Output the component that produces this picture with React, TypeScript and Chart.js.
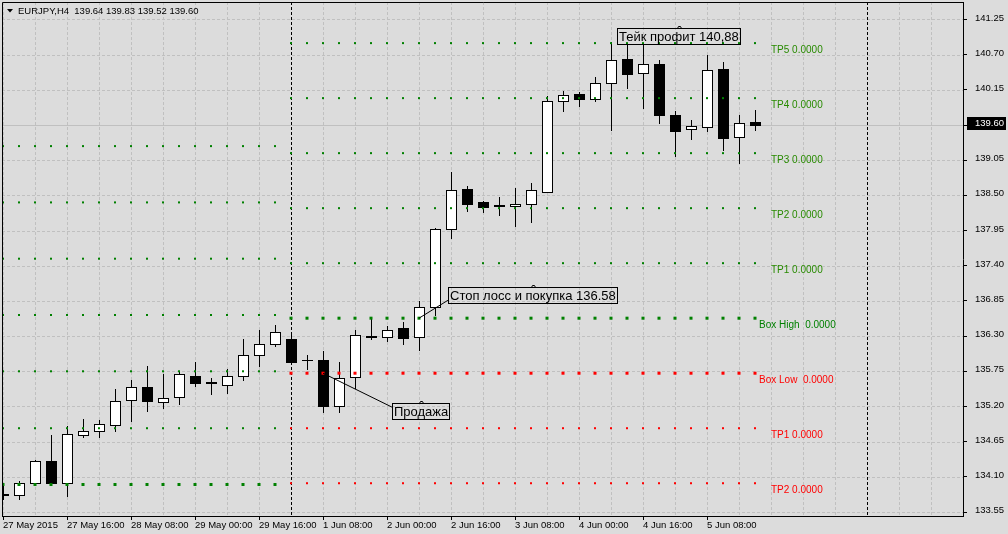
import React, { useEffect, useRef } from 'react';
import { Chart, registerables } from 'chart.js';

Chart.register(...registerables);

// ---------- data ----------
const symbol = 'EURJPY';
const timeframe = 'H4';

const xTickIndex = [0, 4, 8, 12, 16, 20, 24, 28, 32, 36, 40, 44];
const xTickLabels = [
  '27 May 2015', '27 May 16:00', '28 May 08:00', '29 May 00:00', '29 May 16:00', '1 Jun 08:00',
  '2 Jun 00:00', '2 Jun 16:00', '3 Jun 08:00', '4 Jun 00:00', '4 Jun 16:00', '5 Jun 08:00',
];
const yTicks = [133.55, 134.10, 134.65, 135.20, 135.75, 136.30, 136.85, 137.40, 137.95, 138.50, 139.05, 139.60, 140.15, 140.70, 141.25];

const opens = [
  133.83, 133.82, 134.01, 134.35, 134.01, 134.75, 134.82, 134.91, 135.30, 135.51,
  135.27, 135.35, 135.68, 135.58, 135.54, 135.67, 136.01, 136.18, 136.25, 135.93,
  135.92, 135.20, 135.66, 136.30, 136.29, 136.42, 136.29, 136.75, 137.97, 138.60,
  138.39, 138.35, 138.33, 138.36, 138.56, 139.97, 140.08, 140.00, 140.25, 140.63,
  140.41, 140.56, 139.75, 139.53, 139.57, 140.47, 139.41, 139.64,
];
const highs = [
  133.96, 134.04, 134.37, 134.76, 134.90, 135.00, 134.99, 135.47, 135.62, 135.84,
  135.70, 135.76, 135.90, 135.65, 135.78, 136.25, 136.39, 136.47, 136.37, 136.00,
  136.06, 135.89, 136.39, 136.56, 136.46, 136.52, 136.85, 137.99, 138.86, 138.65,
  138.41, 138.48, 138.62, 138.70, 140.05, 140.13, 140.12, 140.35, 140.90, 140.87,
  140.88, 140.62, 139.82, 139.68, 140.70, 140.59, 139.75, 139.83,
];
const lows = [
  133.76, 133.76, 134.00, 133.99, 133.80, 134.73, 134.73, 134.82, 134.97, 135.13,
  135.17, 135.24, 135.52, 135.39, 135.41, 135.61, 135.83, 136.14, 135.89, 135.78,
  135.11, 135.11, 135.49, 136.25, 136.22, 136.18, 136.09, 136.63, 137.84, 138.26,
  138.24, 138.19, 138.02, 138.09, 138.55, 139.82, 139.90, 139.97, 139.52, 140.18,
  139.87, 139.63, 139.12, 139.38, 139.51, 139.21, 139.01, 139.52,
];
const closes = [
  133.82, 134.00, 134.35, 134.00, 134.77, 134.82, 134.93, 135.29, 135.51, 135.28,
  135.34, 135.70, 135.57, 135.56, 135.68, 136.01, 136.17, 136.37, 135.89, 135.92,
  135.20, 135.65, 136.32, 136.29, 136.40, 136.27, 136.75, 137.97, 138.58, 138.37,
  138.32, 138.33, 138.37, 138.58, 139.98, 140.07, 140.00, 140.25, 140.61, 140.40,
  140.56, 139.75, 139.51, 139.58, 140.46, 139.40, 139.63, 139.60,
];

const separatorBars = [18, 54];
const boxStartBar = 18;

const boxLevels = [140.88, 140.02, 139.16, 138.30, 137.44, 136.58, 135.72, 134.86, 134.00];
const boxLevelNames = ['TP5', 'TP4', 'TP3', 'TP2', 'TP1', 'Box High ', 'Box Low ', 'TP1', 'TP2'];
const boxLevelValues = [0, 0, 0, 0, 0, 0, 0, 0, 0];
const prevLevels = [139.27, 138.39, 137.51, 136.63, 135.75, 134.86, 133.98];

const noteTexts = ['Тейк профит 140,88', 'Стоп лосс и покупка 136.58', 'Продажа'];
const noteBar = [38.38, 27.81, 24.31];
const notePrice = [141.11, 137.07, 135.25];
const noteFromBar = [NaN, 26, 20];
const noteFromPrice = [NaN, 136.58, 135.72];
const noteToBar = [NaN, 27.81, 24.31];
const noteToPrice = [NaN, 136.86, 135.19];

// ---------- styles ----------
const BG = '#dcdcdc';
const GRID = '#c0c0c0';
const GREEN = 'rgb(0,128,0)';
const RED = 'rgb(255,0,0)';
const TPGREEN = 'rgb(40,138,0)';
const FONT = '"Liberation Sans", Arial, sans-serif';
const boxLevelColors = [GREEN, GREEN, GREEN, GREEN, GREEN, GREEN, RED, RED, RED];
const boxLevelBig = [false, false, false, false, false, true, true, false, false];
const boxLabelColors = [TPGREEN, TPGREEN, TPGREEN, TPGREEN, TPGREEN, GREEN, RED, RED, RED];
const prevLevelBig = [false, false, false, false, false, false, true];
const SMALL_R = 1.42;
const BIG_R = 2.13;

const mt4Plugin = {
  id: 'mt4',
  beforeDraw(chart: any) {
    const { ctx } = chart;
    ctx.save();
    ctx.fillStyle = BG;
    ctx.fillRect(0, 0, chart.width, chart.height);
    ctx.restore();
  },
  beforeDatasetsDraw(chart: any) {
    const { ctx, chartArea: a, scales } = chart;
    const x = scales.x, y = scales.y;
    ctx.save();
    ctx.beginPath();
    ctx.rect(a.left, a.top, a.right - a.left, a.bottom - a.top);
    ctx.clip();

    // grid
    ctx.strokeStyle = GRID;
    ctx.lineWidth = 1;
    ctx.setLineDash([3, 2]);
    for (let i = 0; i <= x.max; i += 2) {
      const px = Math.round(x.getPixelForValue(i)) + 0.5;
      ctx.beginPath();
      ctx.moveTo(px, a.top);
      ctx.lineTo(px, a.bottom);
      ctx.stroke();
    }
    yTicks.forEach((v) => {
      const py = Math.round(y.getPixelForValue(v)) + 0.5;
      ctx.beginPath();
      ctx.moveTo(a.left, py);
      ctx.lineTo(a.right, py);
      ctx.stroke();
    });

    // bid line
    ctx.setLineDash([]);
    const bidY = Math.round(y.getPixelForValue(closes[closes.length - 1])) + 0.5;
    ctx.beginPath();
    ctx.moveTo(a.left, bidY);
    ctx.lineTo(a.right, bidY);
    ctx.stroke();

    // separators
    ctx.strokeStyle = '#000';
    ctx.setLineDash([3, 2]);
    separatorBars.forEach((b) => {
      const px = Math.round(x.getPixelForValue(b)) + 0.5;
      ctx.beginPath();
      ctx.moveTo(px, a.top);
      ctx.lineTo(px, a.bottom);
      ctx.stroke();
    });
    ctx.setLineDash([]);

    // candles
    for (let i = 0; i < opens.length; i++) {
      const cx = Math.round(x.getPixelForValue(i));
      const yo = y.getPixelForValue(opens[i]);
      const yc = y.getPixelForValue(closes[i]);
      const yh = Math.round(y.getPixelForValue(highs[i]));
      const yl = Math.round(y.getPixelForValue(lows[i]));
      ctx.fillStyle = '#000';
      ctx.fillRect(cx, yh, 1, yl - yh + 1);
      const top = Math.round(Math.min(yo, yc));
      const bot = Math.round(Math.max(yo, yc));
      ctx.fillRect(cx - 5, top, 11, bot - top + 1);
      if (closes[i] >= opens[i] && bot - top >= 2) {
        ctx.fillStyle = '#fff';
        ctx.fillRect(cx - 4, top + 1, 9, bot - top - 1);
      }
    }
    ctx.restore();
  },
  afterDatasetsDraw(chart: any) {
    const { ctx, chartArea: a, scales } = chart;
    const x = scales.x, y = scales.y;
    const n = opens.length;
    ctx.save();

    // left & top border
    ctx.strokeStyle = '#000';
    ctx.lineWidth = 1;
    ctx.beginPath();
    ctx.moveTo(a.left + 0.5, a.bottom);
    ctx.lineTo(a.left + 0.5, a.top + 0.5);
    ctx.lineTo(a.right + 1, a.top + 0.5);
    ctx.stroke();

    // level labels
    ctx.font = `10px ${FONT}`;
    ctx.textBaseline = 'middle';
    ctx.textAlign = 'left';
    boxLevels.forEach((lv, k) => {
      const isBox = boxLevelNames[k].startsWith('Box');
      const px = x.getPixelForValue(isBox ? n - 1 + 0.25 : n);
      const py = y.getPixelForValue(lv);
      ctx.fillStyle = boxLabelColors[k];
      ctx.fillText(`${boxLevelNames[k]} ${boxLevelValues[k].toFixed(4)}`, px, py + 7.5);
    });

    // notes
    ctx.font = `13px ${FONT}`;
    ctx.strokeStyle = '#000';
    ctx.fillStyle = '#000';
    noteTexts.forEach((t, k) => {
      if (!isNaN(noteFromBar[k])) {
        ctx.beginPath();
        ctx.moveTo(x.getPixelForValue(noteFromBar[k]), y.getPixelForValue(noteFromPrice[k]));
        ctx.lineTo(x.getPixelForValue(noteToBar[k]), y.getPixelForValue(noteToPrice[k]));
        ctx.stroke();
      }
      const bx = Math.round(x.getPixelForValue(noteBar[k])) + 0.5;
      const by = Math.round(y.getPixelForValue(notePrice[k])) + 0.5;
      const w = Math.round(ctx.measureText(t).width) + 3;
      const h = 16;
      ctx.strokeRect(bx, by, w, h);
      ctx.fillText(t, bx + 1.5, by + 8.5);
      const nx = Math.round(bx + w / 2) + 0.5;
      ctx.beginPath();
      ctx.moveTo(nx - 2, by);
      ctx.lineTo(nx - 1, by - 2);
      ctx.lineTo(nx + 1, by - 2);
      ctx.lineTo(nx + 2, by);
      ctx.stroke();
    });

    // bid label
    const last = closes[n - 1];
    const bpy = Math.round(y.getPixelForValue(last));
    ctx.fillStyle = '#000';
    ctx.fillRect(a.right + 4, bpy - 8, 39, 13);
    ctx.fillStyle = '#fff';
    ctx.font = `9.5px ${FONT}`;
    ctx.fillText(last.toFixed(2), a.right + 12, bpy - 1.5);

    // header
    ctx.fillStyle = '#000';
    ctx.beginPath();
    ctx.moveTo(7, 9);
    ctx.lineTo(13, 9);
    ctx.lineTo(10, 12.5);
    ctx.closePath();
    ctx.fill();
    ctx.font = `9.5px ${FONT}`;
    ctx.fillText(
      `${symbol},${timeframe}  ${opens[n - 1].toFixed(2)} ${highs[n - 1].toFixed(2)} ${lows[n - 1].toFixed(2)} ${closes[n - 1].toFixed(2)}`,
      18, 11,
    );
    ctx.restore();
  },
};

export default function App() {
  const ref = useRef<HTMLCanvasElement>(null);

  useEffect(() => {
    document.body.style.margin = '0';
    document.body.style.background = BG;
    const canvas = ref.current;
    if (!canvas) return;
    const n = opens.length;
    const rightIdx: number[] = [];
    for (let i = boxStartBar; i < n; i++) rightIdx.push(i);
    const leftIdx: number[] = [];
    for (let i = 0; i < boxStartBar; i++) leftIdx.push(i);

    const datasets: any[] = [];
    boxLevels.forEach((lv, k) => {
      datasets.push({
        data: rightIdx.map((i) => ({ x: i, y: lv })),
        pointStyle: 'rect',
        pointRadius: boxLevelBig[k] ? BIG_R : SMALL_R,
        backgroundColor: boxLevelColors[k],
        borderWidth: 0,
      });
    });
    prevLevels.forEach((lv, k) => {
      datasets.push({
        data: leftIdx.map((i) => ({ x: i, y: lv })),
        pointStyle: 'rect',
        pointRadius: prevLevelBig[k] ? BIG_R : SMALL_R,
        backgroundColor: GREEN,
        borderWidth: 0,
      });
    });

    Chart.defaults.font.family = FONT;
    Chart.defaults.color = '#000';

    const chart = new Chart(canvas, {
      type: 'scatter',
      data: { datasets },
      plugins: [mt4Plugin],
      options: {
        animation: false,
        responsive: false,
        events: [],
        layout: { autoPadding: false, padding: { left: 2, top: 2, right: 0, bottom: 0 } },
        plugins: { legend: { display: false }, tooltip: { enabled: false } },
        scales: {
          x: {
            type: 'linear',
            position: 'bottom',
            min: -0.0625,
            max: 60,
            afterBuildTicks: (ax: any) => {
              ax.ticks = xTickIndex.map((v) => ({ value: v }));
            },
            afterFit: (ax: any) => {
              ax.height = 18;
              ax.paddingLeft = 0;
              ax.paddingRight = 0;
            },
            ticks: {
              autoSkip: false,
              maxRotation: 0,
              minRotation: 0,
              align: 'start',
              padding: 0,
              color: '#000',
              font: { size: 9.5, family: FONT },
              callback: (v: any) => {
                const k = xTickIndex.indexOf(Number(v));
                return k >= 0 ? xTickLabels[k] : '';
              },
            },
            grid: { drawOnChartArea: false, drawTicks: true, tickLength: 4, color: '#000' },
            border: { display: true, color: '#000', width: 1 },
          },
          y: {
            type: 'linear',
            position: 'right',
            min: 133.4878,
            max: 141.5228,
            afterBuildTicks: (ax: any) => {
              ax.ticks = yTicks.map((v) => ({ value: v }));
            },
            afterFit: (ax: any) => {
              ax.width = 45;
              ax.paddingTop = 0;
              ax.paddingBottom = 0;
            },
            ticks: {
              padding: 8,
              color: '#000',
              labelOffset: -1.5,
              font: { size: 9.5, family: FONT },
              callback: (v: any) => Number(v).toFixed(2),
            },
            grid: { drawOnChartArea: false, drawTicks: true, tickLength: 4, color: '#000' },
            border: { display: true, color: '#000', width: 1 },
          },
        },
      } as any,
    });
    return () => chart.destroy();
  }, []);

  return (
    <div style={{ position: 'fixed', left: 0, top: 0, width: 1008, height: 534, background: BG }}>
      <canvas ref={ref} width={1008} height={534} style={{ display: 'block' }} />
    </div>
  );
}
